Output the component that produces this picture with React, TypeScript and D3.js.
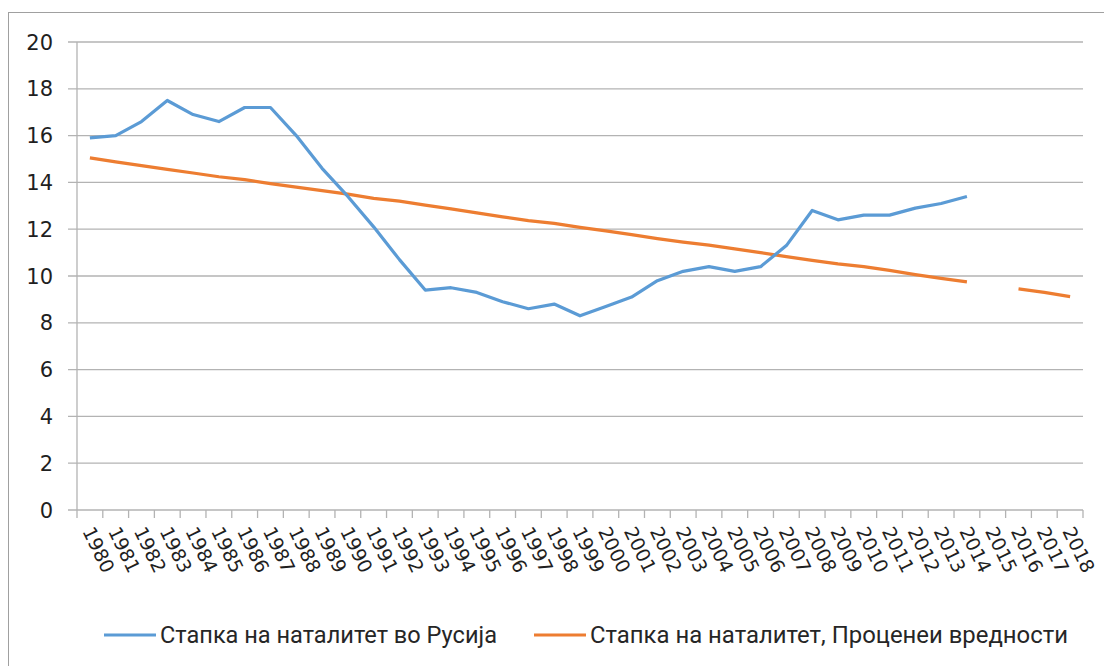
import React from 'react';
import * as d3 from 'd3';

const years = d3.range(1980, 2019).map(String);

// birth rate in Russia (per 1000), 1980-2014
const russia = [
  15.9, 16.0, 16.6, 17.5, 16.9, 16.6, 17.2, 17.2, 16.0, 14.6,
  13.4, 12.1, 10.7, 9.4, 9.5, 9.3, 8.9, 8.6, 8.8, 8.3,
  8.7, 9.1, 9.8, 10.2, 10.4, 10.2, 10.4, 11.3, 12.8, 12.4,
  12.6, 12.6, 12.9, 13.1, 13.4,
];

// estimated values, 2015 is missing
const estimated = [
  15.05, 14.88, 14.72, 14.56, 14.4, 14.24, 14.12, 13.95, 13.8, 13.65,
  13.5, 13.32, 13.2, 13.03, 12.87, 12.7, 12.53, 12.37, 12.25, 12.08,
  11.93, 11.77, 11.6, 11.45, 11.32, 11.16, 11.0, 10.83, 10.67, 10.52,
  10.4, 10.24, 10.06, 9.9, 9.75, null, 9.45, 9.3, 9.12,
];

const yTicks = [0, 2, 4, 6, 8, 10, 12, 14, 16, 18, 20];

const seriesNames = ['Стапка на наталитет во Русија', 'Стапка на наталитет, Проценеи вредности'];
const colors = ['#5B9BD5', '#ED7D31'];

const W = 1104, H = 666;
const left = 77, right = 1083, top = 42, bottom = 510;

export default function App() {
  const x = d3.scaleBand<string>().domain(years).range([left, right]);
  const y = d3.scaleLinear().domain([0, 20]).range([bottom, top]);
  const cx = (i: number) => (x(years[i]) as number) + x.bandwidth() / 2;

  const line = d3.line<number | null>()
    .defined((d) => d != null)
    .x((_, i) => cx(i))
    .y((d) => y(d as number));

  const boundaries = years.map((yr) => x(yr) as number).concat([right]);

  return (
    <svg width={W} height={H} style={{ position: 'absolute', left: 0, top: 0, background: '#fff' }}>
      <rect x={8.5} y={12.5} width={1200} height={700} fill="#fff" stroke="#a0a0a0" strokeWidth={1} />

      {yTicks.map((t) => (
        <g key={t}>
          <line x1={68} x2={right} y1={y(t)} y2={y(t)} stroke="#b3b3b3" strokeWidth={1.3} />
          <text x={53} y={y(t)} dy="0.36em" textAnchor="end" fontFamily="DejaVu Sans" fontSize={21} fill="#1f1f1f">{t}</text>
        </g>
      ))}
      <line x1={left} x2={left} y1={top} y2={bottom} stroke="#b3b3b3" strokeWidth={1.3} />
      {boundaries.map((bx, i) => (
        <line key={i} x1={bx} x2={bx} y1={bottom} y2={bottom + 8} stroke="#b3b3b3" strokeWidth={1.3} />
      ))}
      {years.map((yr, i) => (
        <text key={yr} transform={`translate(${cx(i) - 8},${bottom + 21}) rotate(64)`}
          fontFamily="DejaVu Sans" fontSize={19} fill="#1f1f1f">{yr}</text>
      ))}

      <path d={line(estimated) || ''} fill="none" stroke={colors[1]} strokeWidth={3.2} strokeLinejoin="round" />
      <path d={line(russia) || ''} fill="none" stroke={colors[0]} strokeWidth={3.2} strokeLinejoin="round" />

      <g>
        <line x1={104} x2={156} y1={635} y2={635} stroke={colors[0]} strokeWidth={3.2} />
        <text x={160} y={643} fontFamily="Liberation Sans Narrow, Roboto" fontSize={23} fill="#262626"
          textLength={337} lengthAdjust="spacingAndGlyphs">{seriesNames[0]}</text>
        <line x1={534} x2={586} y1={635} y2={635} stroke={colors[1]} strokeWidth={3.2} />
        <text x={590} y={643} fontFamily="Liberation Sans Narrow, Roboto" fontSize={23} fill="#262626"
          textLength={478} lengthAdjust="spacingAndGlyphs">{seriesNames[1]}</text>
      </g>
    </svg>
  );
}
